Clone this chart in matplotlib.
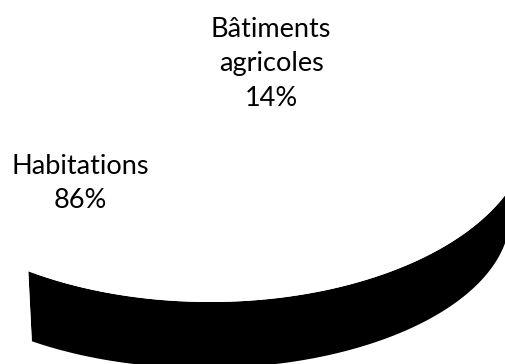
import numpy as np
import matplotlib.pyplot as plt
from matplotlib.patches import Polygon

# Parts of the building stock
categories = ["Habitations", "Bâtiments\nagricoles"]
values = [86, 14]

top_colors = ["white", "white"]
side_colors = ["black", "white"]

W, H = 505, 364
fig = plt.figure(figsize=(W / 100, H / 100), dpi=100)
ax = fig.add_axes([0, 0, 1, 1])
ax.set_xlim(0, W)
ax.set_ylim(H, 0)
ax.axis("off")

# Tilted disc seen in perspective: upper rim and lower rim (pixel units, y down)
top_rim = dict(cx=210.0, cy=128.0, rx=320.0, ry=174.0)
bot_rim = dict(cx=205.0, cy=215.7, rx=305.0, ry=152.5)
start_angle = 124.6  # degrees, measured clockwise on screen from 3 o'clock


def rim_point(rim, t):
    r = np.radians(t)
    return rim["cx"] + rim["rx"] * np.cos(r), rim["cy"] + rim["ry"] * np.sin(r)


fractions = np.asarray(values, dtype=float) / np.sum(values)
spans = 360.0 * fractions
edges = start_angle - np.concatenate([[0.0], np.cumsum(spans)])

for i in range(len(values)):
    t = np.linspace(edges[i], edges[i + 1], 600)
    # front-facing wall of the slice (where the rim faces the viewer)
    front = np.sin(np.radians(t)) >= 0
    idx = np.flatnonzero(front)
    if idx.size:
        runs = np.split(idx, np.flatnonzero(np.diff(idx) > 1) + 1)
        for run in runs:
            tt = t[run]
            ux, uy = rim_point(top_rim, tt)
            lx, ly = rim_point(bot_rim, tt[::-1])
            wall = np.column_stack([np.r_[ux, lx], np.r_[uy, ly]])
            ax.add_patch(Polygon(wall, closed=True, facecolor=side_colors[i],
                                 edgecolor="none", zorder=1))
    # upper face of the slice
    ux, uy = rim_point(top_rim, t)
    face = np.column_stack([np.r_[top_rim["cx"], ux], np.r_[top_rim["cy"], uy]])
    ax.add_patch(Polygon(face, closed=True, facecolor=top_colors[i],
                         edgecolor="none", zorder=2))

# Data labels
label_pos = [(80, 154), (271, 17)]
for name, v, (x, y) in zip(categories, values, label_pos):
    ax.text(x, y, f"{name}\n{v}%", ha="center", va="top", fontsize=19.5,
            family=["Lato", "DejaVu Sans"], color="black", linespacing=1.47,
            zorder=3)

fig.savefig("out.png", dpi=100, facecolor="white")
